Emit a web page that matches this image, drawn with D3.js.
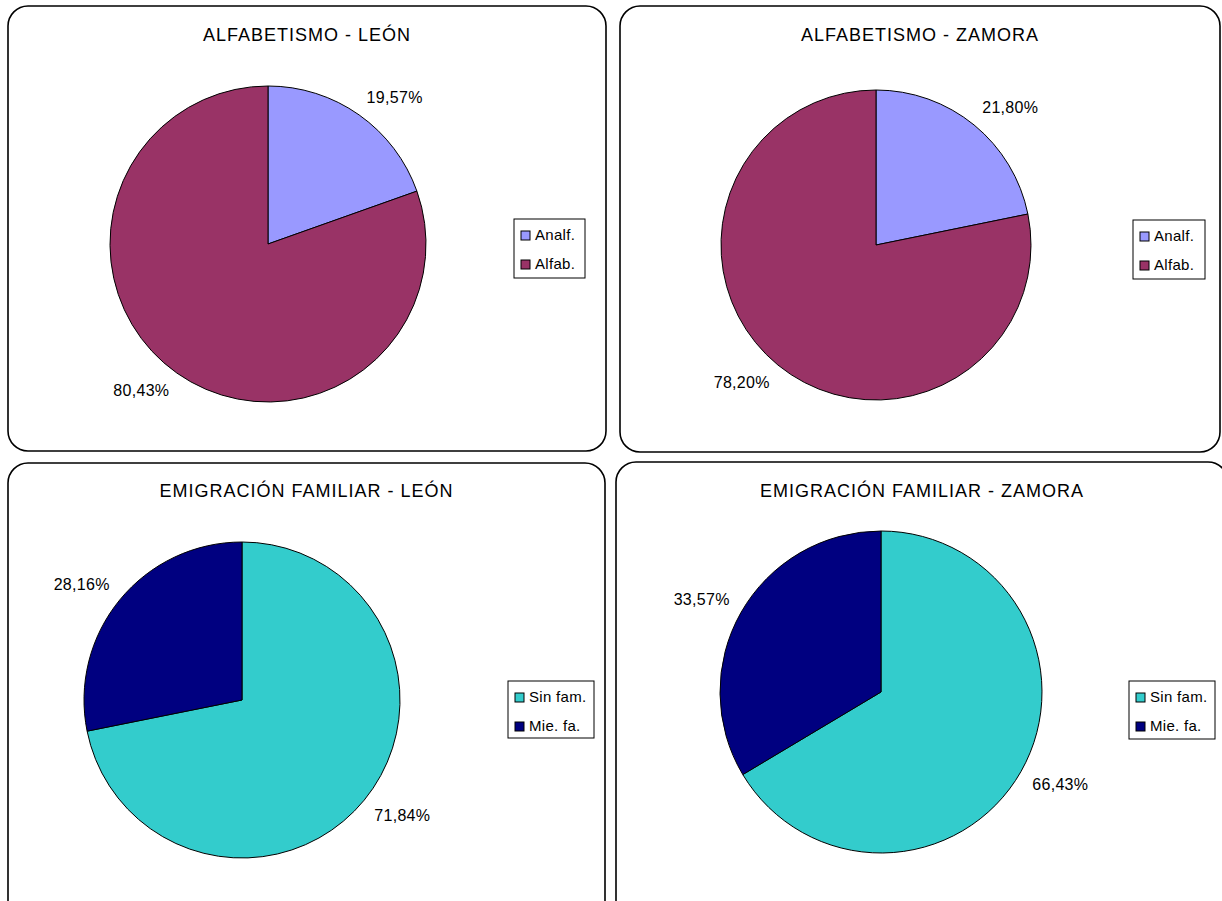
<!DOCTYPE html>
<html>
<head>
<meta charset="utf-8">
<script src="https://cdn.jsdelivr.net/npm/d3@7"></script>
<style>
    html, body { margin: 0; padding: 0; background: #ffffff; }
    svg { display: block; font-family: 'Liberation Sans', Arial, sans-serif; }
</style>
</head>
<body>
<svg id="chart" width="1222" height="901"></svg>
<script>
// values
const titles = [
    'ALFABETISMO - LEÓN',
    'ALFABETISMO - ZAMORA',
    'EMIGRACIÓN FAMILIAR - LEÓN',
    'EMIGRACIÓN FAMILIAR - ZAMORA'
];
const literacyCategories = ['Analf.', 'Alfab.'];
const literacyLeon = [19.57, 80.43];
const literacyZamora = [21.80, 78.20];
const emigrationCategories = ['Sin fam.', 'Mie. fa.'];
const emigrationLeon = [71.84, 28.16];
const emigrationZamora = [66.43, 33.57];

const literacyColors = ['#9999ff', '#993366'];
const emigrationColors = ['#33cccc', '#000080'];

// panel layout
const panels = [
    { box: [8, 6, 598, 445], cx: 268, cy: 244, r: 158, legend: [514, 219, 71, 59],
      titleY: 41, categories: literacyCategories, values: literacyLeon, colors: literacyColors },
    { box: [620, 6, 600, 446], cx: 876, cy: 245, r: 155, legend: [1133, 220, 72, 59],
      titleY: 41, categories: literacyCategories, values: literacyZamora, colors: literacyColors },
    { box: [8, 463, 597, 460], cx: 242, cy: 700, r: 158, legend: [508, 681, 86, 57],
      titleY: 497, categories: emigrationCategories, values: emigrationLeon, colors: emigrationColors },
    { box: [616, 462, 612, 460], cx: 881, cy: 692, r: 161, legend: [1129, 681, 86, 58],
      titleY: 497, categories: emigrationCategories, values: emigrationZamora, colors: emigrationColors }
];

const svg = d3.select('#chart');
const fmt = v => v.toFixed(2).replace('.', ',') + '%';

const pie = d3.pie().sort(null).value(d => d.value);

panels.forEach((p, i) => {
    const g = svg.append('g');
    const [bx, by, bw, bh] = p.box;

    g.append('rect')
        .attr('x', bx)
        .attr('y', by)
        .attr('width', bw)
        .attr('height', bh)
        .attr('rx', 20)
        .attr('ry', 20)
        .attr('fill', '#ffffff')
        .attr('stroke', '#000000')
        .attr('stroke-width', 1.6);

    g.append('text')
        .attr('x', bx + bw / 2)
        .attr('y', p.titleY)
        .attr('text-anchor', 'middle')
        .attr('font-size', 18)
        .attr('letter-spacing', 1)
        .text(titles[i]);

    const data = p.categories.map((c, k) => ({ name: c, value: p.values[k], color: p.colors[k] }));
    const arcs = pie(data);
    const arc = d3.arc().innerRadius(0).outerRadius(p.r);

    const pieG = g.append('g').attr('transform', `translate(${p.cx},${p.cy})`);

    pieG.selectAll('path')
        .data(arcs)
        .enter()
        .append('path')
        .attr('d', arc)
        .attr('fill', d => d.data.color)
        .attr('stroke', '#000000')
        .attr('stroke-width', 1);

    // label box corner nearest the pie sits a little outside the rim
    const labelW = 56, labelH = 14;
    const labelPos = d => {
        const a = (d.startAngle + d.endAngle) / 2;
        const sx = Math.sin(a), cy = -Math.cos(a);
        return [
            sx * (p.r + 13) + Math.sign(sx) * labelW / 2,
            cy * (p.r + 13) + Math.sign(cy) * labelH / 2
        ];
    };
    pieG.selectAll('text')
        .data(arcs)
        .enter()
        .append('text')
        .attr('font-size', 16)
        .attr('letter-spacing', 0.3)
        .attr('text-anchor', 'middle')
        .attr('dy', '0.35em')
        .attr('x', d => labelPos(d)[0])
        .attr('y', d => labelPos(d)[1])
        .attr('fill', '#000000')
        .text(d => fmt(d.data.value));

    const [lx, ly, lw, lh] = p.legend;
    const leg = g.append('g');
    leg.append('rect')
        .attr('x', lx)
        .attr('y', ly)
        .attr('width', lw)
        .attr('height', lh)
        .attr('fill', '#ffffff')
        .attr('stroke', '#000000')
        .attr('stroke-width', 1);

    data.forEach((d, k) => {
        leg.append('rect')
            .attr('x', lx + 7)
            .attr('y', ly + 12 + k * 29)
            .attr('width', 9)
            .attr('height', 9)
            .attr('fill', d.color)
            .attr('stroke', '#000000')
            .attr('stroke-width', 1);
        leg.append('text')
            .attr('x', lx + 21)
            .attr('y', ly + 21 + k * 29)
            .attr('font-size', 15)
            .attr('letter-spacing', 0.3)
            .text(d.name);
    });
});
</script>
</body>
</html>
